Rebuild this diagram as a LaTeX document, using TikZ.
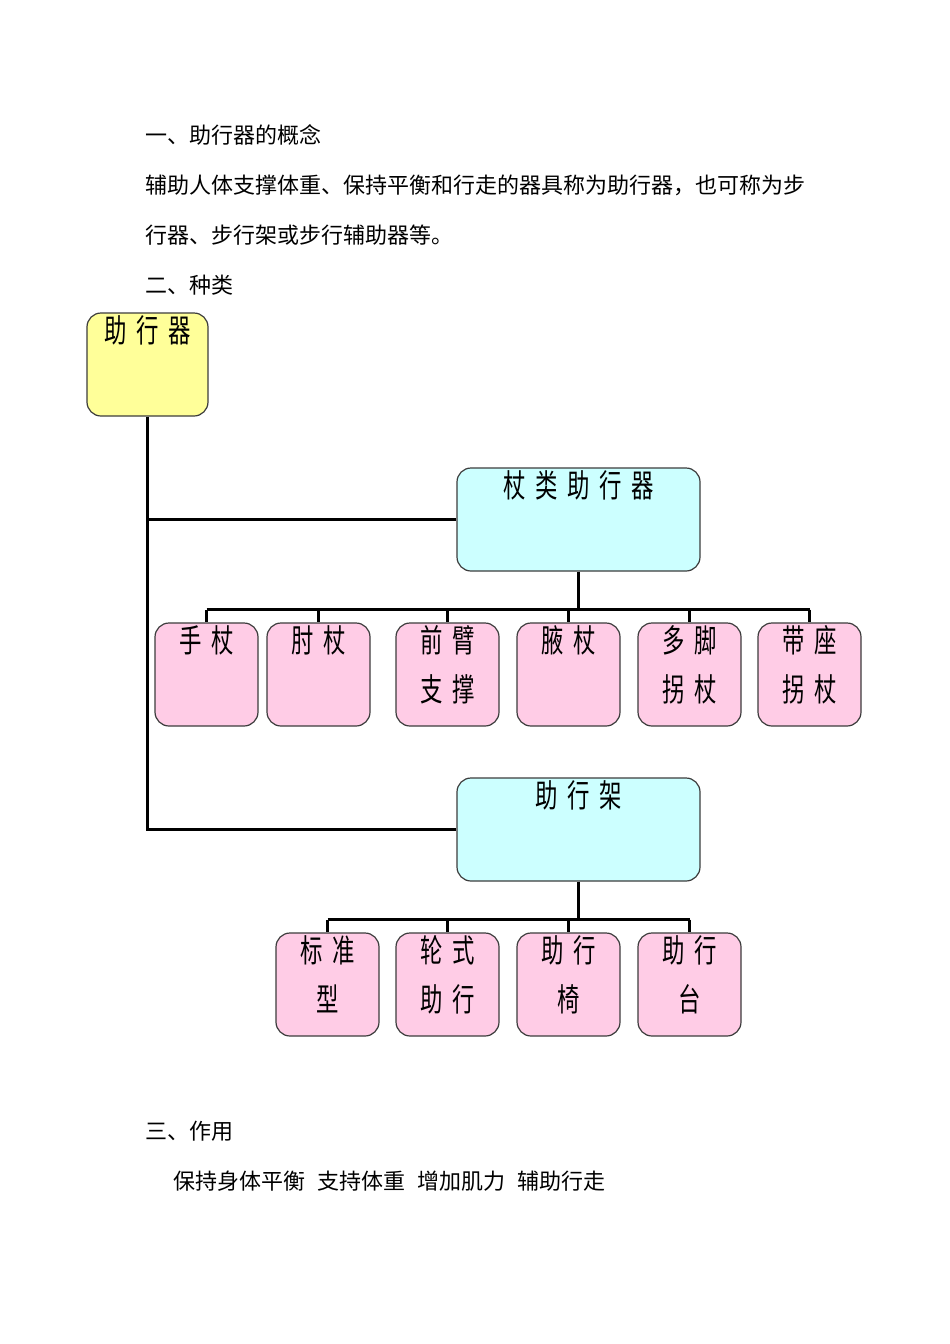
\documentclass[tikz,border=0pt]{standalone}
\usepackage{fontspec}
\setmainfont{Noto Sans CJK SC}
\newfontfamily\boxfont{Noto Sans CJK SC}[FakeStretch=0.7,LetterSpace=30]
\usetikzlibrary{positioning}

\definecolor{rootfill}{RGB}{255,255,153}
\definecolor{groupfill}{RGB}{204,255,255}
\definecolor{leaffill}{RGB}{255,204,230}
\definecolor{edge}{RGB}{60,60,60}

\tikzset{
  box/.style={draw=edge,line width=1.2pt,rounded corners=14pt,inner sep=0pt},
  rootbox/.style={box,fill=rootfill,minimum width=121pt,minimum height=103pt},
  groupbox/.style={box,fill=groupfill,minimum width=243pt,minimum height=103pt},
  leafbox/.style={box,fill=leaffill,minimum width=103pt,minimum height=103pt},
  lbl/.style={anchor=north,inner sep=0pt,yshift=-3pt,align=center,
    font=\boxfont\fontsize{32}{49}\selectfont},
  link/.style={line width=3.6pt},
  body/.style={anchor=west,inner sep=0pt,font=\fontsize{22}{26}\selectfont}
}

\begin{document}
\begin{tikzpicture}[x=1pt,y=-1pt]
  \useasboundingbox (0,0) rectangle (950,1344);

  % text above
  \node[body] (t1) at (145,135) {一、助行器的概念};
  \node[body] (t2) at (145,185) {辅助人体支撑体重、保持平衡和行走的器具称为助行器，也可称为步};
  \node[body] (t3) at (145,235) {行器、步行架或步行辅助器等。};
  \node[body] (t4) at (145,285) {二、种类};

  % boxes
  \node[rootbox,label={[lbl]north:助行器}] (root) at (147.5,364.5) {};
  \node[groupbox,label={[lbl]north:杖类助行器}] (cane) at (578.5,519.5) {};
  \node[groupbox,label={[lbl]north:助行架}] (frame) at (578.5,829.5) {};

  \node[leafbox,label={[lbl]north:手杖}] (c1) at (206.5,674.5) {};
  \node[leafbox,label={[lbl]north:肘杖}] (c2) at (318.5,674.5) {};
  \node[leafbox,label={[lbl]north:{前臂\\支撑}}] (c3) at (447.5,674.5) {};
  \node[leafbox,label={[lbl]north:腋杖}] (c4) at (568.5,674.5) {};
  \node[leafbox,label={[lbl]north:{多脚\\拐杖}}] (c5) at (689.5,674.5) {};
  \node[leafbox,label={[lbl]north:{带座\\拐杖}}] (c6) at (809.5,674.5) {};

  \node[leafbox,label={[lbl]north:{标准\\型}}] (f1) at (327.5,984.5) {};
  \node[leafbox,label={[lbl]north:{轮式\\助行}}] (f2) at (447.5,984.5) {};
  \node[leafbox,label={[lbl]north:{助行\\椅}}] (f3) at (568.5,984.5) {};
  \node[leafbox,label={[lbl]north:{助行\\台}}] (f4) at (689.5,984.5) {};

  % trunk
  \draw[link] (root.south) -- (root.south |- frame.west) -- (frame.west);
  \draw[link] (root.south |- cane.west) -- (cane.west);

  % canes
  \draw[link] (cane.south) -- ++(0,38) coordinate (bar1);
  \draw[link] (bar1 -| c1.north) -- (bar1 -| c6.north);
  \foreach \n in {c1,c2,c3,c4,c5,c6}
    \draw[link] (bar1 -| \n.north) -- (\n.north);

  % frames
  \draw[link] (frame.south) -- ++(0,38) coordinate (bar2);
  \draw[link] (bar2 -| f1.north) -- (bar2 -| f4.north);
  \foreach \n in {f1,f2,f3,f4}
    \draw[link] (bar2 -| \n.north) -- (\n.north);

  % text below
  \node[body] (t5) at (145,1131) {三、作用};
  \node[body] (t6) at (173,1181) {保持身体平衡\hspace{12pt}支持体重\hspace{12pt}增加肌力\hspace{12pt}辅助行走};
\end{tikzpicture}
\end{document}
